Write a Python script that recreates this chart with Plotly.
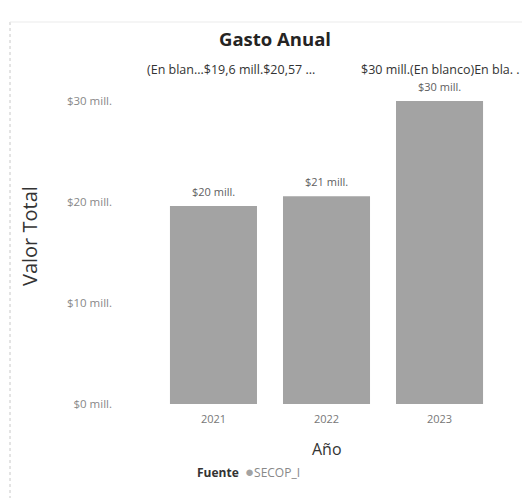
import plotly.graph_objects as go

years = ["2021", "2022", "2023"]
values = [19.6, 20.57, 30.0]  # millones
tick_vals = [0, 10, 20, 30]
tick_text = ["$0 mill.", "$10 mill.", "$20 mill.", "$30 mill."]
legend_title = "Fuente"
legend_name = "SECOP_I"
overflow_left = "(En blan...$19,6 mill.$20,57 ..."
overflow_right = "$30 mill.(En blanco)En bla. ."

# page has an 8px body margin; work in page pixel coordinates
OFF = 8
W, H = 530 - OFF, 498 - OFF
PL, PR, PT, PB = 120, 500, 101, 404  # plot area in page px
L, R, T, B = PL - OFF, W - (PR - OFF), PT - OFF, H - (PB - OFF)
pw, ph = PR - PL, PB - PT

def px(x):
    return (x - PL) / pw

def py(y):
    return (PB - y) / ph

FONT = "Open Sans"

fig = go.Figure()
fig.add_trace(go.Bar(
    x=years, y=values,
    marker=dict(color="#a3a3a3", line=dict(width=0)),
    showlegend=False, hoverinfo="x+y",
))

for i, v in enumerate(values):
    fig.add_annotation(x=i, y=v, xref="x", yref="y", text=f"${v:.0f} mill.",
                       showarrow=False, yanchor="middle", yshift=15,
                       font=dict(family=FONT, size=11, color="#606060"))

fig.update_layout(
    width=W, height=H,
    margin=dict(l=L, r=R, t=T, b=B),
    paper_bgcolor="white", plot_bgcolor="white",
    bargap=0.23,
    showlegend=False,
    title=dict(text="<b>Gasto Anual</b>", xref="container",
               x=(275 - OFF) / W, xanchor="center",
               y=1 - (40 - OFF) / H, yanchor="middle",
               font=dict(family=FONT, size=18.5, color="#252423")),
    xaxis=dict(type="category", range=[-0.827, 2.535], showgrid=False,
               showline=False, ticks="", zeroline=False,
               ticklabelstandoff=7,
               tickfont=dict(family=FONT, size=11, color="#777777")),
    yaxis=dict(range=[0, 30], tickvals=tick_vals, ticktext=tick_text,
               showgrid=False, zeroline=False, showline=False, ticks="",
               ticklabelstandoff=7,
               tickfont=dict(family=FONT, size=11.5, color="#888888")),
)

fig.add_annotation(text=overflow_left, xref="paper", yref="paper",
                   x=px(145), y=py(69), xanchor="left", yanchor="middle",
                   showarrow=False,
                   font=dict(family=FONT, size=12.5, color="#333333"))
fig.add_annotation(text=overflow_right, xref="paper", yref="paper",
                   x=px(522), y=py(69), xanchor="right", yanchor="middle",
                   showarrow=False,
                   font=dict(family=FONT, size=12.5, color="#333333"))
fig.add_annotation(text="Valor Total", xref="paper", yref="paper",
                   x=px(30), y=py(236), textangle=-90, xanchor="center",
                   yanchor="middle", showarrow=False,
                   font=dict(family=FONT, size=20, color="#333333"))
fig.add_annotation(text="Año", xref="paper", yref="paper",
                   x=px(327), y=py(449), xanchor="center", yanchor="middle",
                   showarrow=False,
                   font=dict(family=FONT, size=16, color="#333333"))
fig.add_annotation(
    text=f"<b><span style='color:#333333'>{legend_title}</span></b>  "
         f"<span style='color:#a3a3a3;font-size:15px'>●</span>{legend_name}",
    xref="paper", yref="paper", x=px(195), y=py(471),
    xanchor="left", yanchor="middle", showarrow=False,
    font=dict(family=FONT, size=12, color="#888888"))

fig.add_shape(type="line", xref="paper", yref="paper",
              x0=px(10), x1=px(10), y0=py(22), y1=py(498),
              line=dict(color="#c8c8c8", width=1, dash="dot"))
fig.add_shape(type="line", xref="paper", yref="paper",
              x0=px(10), x1=px(530), y0=py(22), y1=py(22),
              line=dict(color="#ebebeb", width=1))

fig.write_html("out.html")
